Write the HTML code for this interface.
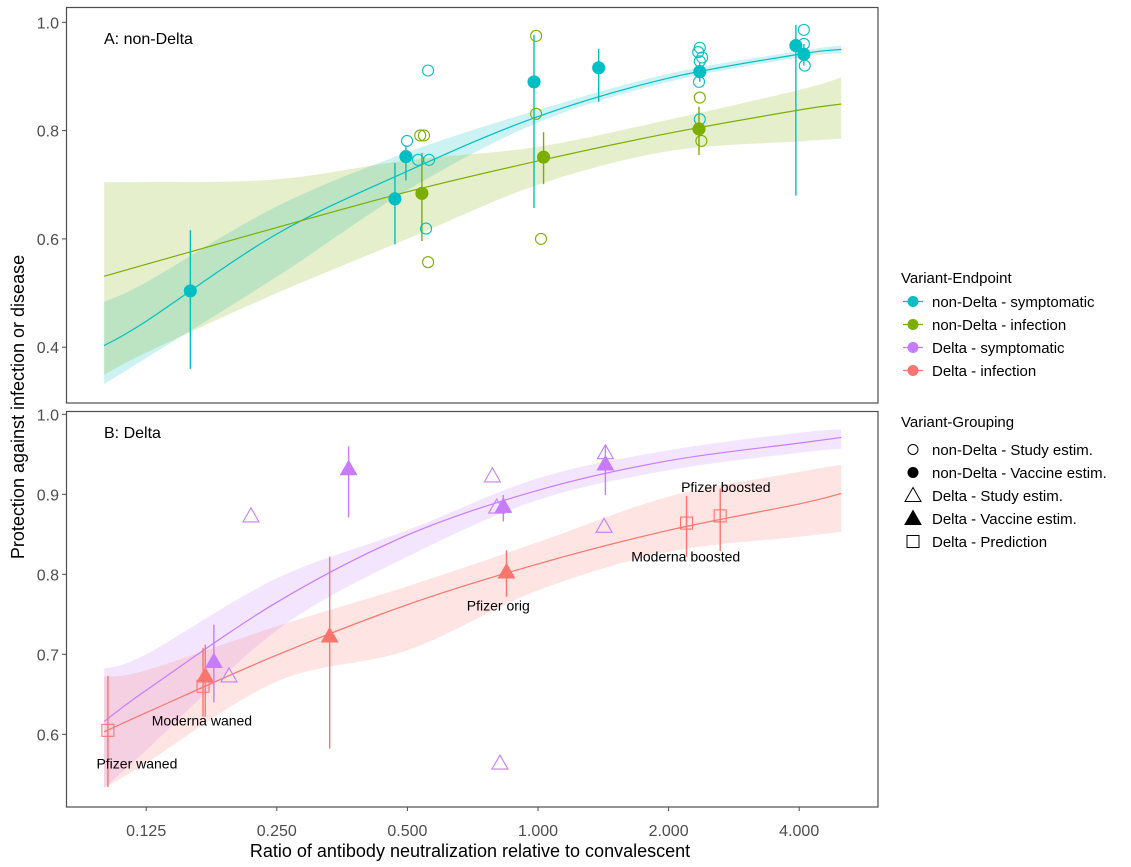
<!DOCTYPE html>
<html><head><meta charset="utf-8"><style>
body{margin:0;background:#fff;}
svg{display:block;font-family:"Liberation Sans",Arial,sans-serif;}
</style></head><body>
<svg id="chart" width="1131" height="867" viewBox="0 0 1131 867" xmlns="http://www.w3.org/2000/svg">
<rect x="0" y="0" width="1131" height="867" fill="#fff"/>
<g id="bands"></g><g id="lines"></g><g id="marks"></g>
<rect x="66.5" y="7.5" width="811.5" height="395.5" fill="none" stroke="#4d4d4d" stroke-width="1.2"/>
<rect x="66.5" y="411.5" width="811.5" height="395.5" fill="none" stroke="#4d4d4d" stroke-width="1.2"/>
<text x="104" y="44" font-size="16" fill="#000">A: non-Delta</text>
<text x="104" y="438" font-size="16" fill="#000">B: Delta</text>
<g id="axes"></g>
<text x="470" y="857" font-size="18" text-anchor="middle" fill="#000">Ratio of antibody neutralization relative to convalescent</text>
<text transform="translate(24,407) rotate(-90)" font-size="18" text-anchor="middle" fill="#000">Protection against infection or disease</text>
<g id="legend" font-size="15" fill="#000"></g>
</svg>
<script>
const NS="http://www.w3.org/2000/svg";
// ---- data ----
const xTicks=[0.125,0.25,0.5,1,2,4];
const xTickLabels=["0.125","0.250","0.500","1.000","2.000","4.000"];
const yTicksA=[0.4,0.6,0.8,1.0];
const yTicksB=[0.6,0.7,0.8,0.9,1.0];
const curveX=[0.1,0.125,0.25,0.5,1,2,4,5];
const cyanFit=[0.403,0.448,0.609,0.725,0.826,0.897,0.941,0.950];
const cyanLo=[0.332,0.38,0.53,0.69,0.815,0.89,0.935,0.943];
const cyanHi=[0.484,0.52,0.66,0.76,0.838,0.905,0.947,0.957];
const greenFit=[0.531,0.553,0.621,0.687,0.744,0.795,0.838,0.849];
const greenLo=[0.349,0.39,0.50,0.60,0.70,0.762,0.78,0.785];
const greenHi=[0.705,0.705,0.71,0.745,0.77,0.82,0.875,0.898];
const purpleFit=[0.616,0.655,0.765,0.849,0.905,0.942,0.964,0.971];
const purpleLo=[0.533,0.58,0.73,0.822,0.893,0.93,0.952,0.957];
const purpleHi=[0.682,0.70,0.795,0.855,0.92,0.955,0.977,0.981];
const redFit=[0.603,0.627,0.699,0.762,0.813,0.855,0.888,0.901];
const redLo=[0.533,0.564,0.666,0.705,0.78,0.828,0.847,0.853];
const redHi=[0.672,0.68,0.735,0.785,0.84,0.897,0.928,0.937];
// panel A vaccine estimates
const cyanVacX=[0.158,0.468,0.496,0.979,1.38,2.36,3.93,4.10];
const cyanVacY=[0.504,0.674,0.752,0.890,0.916,0.909,0.957,0.941];
const cyanVacLo=[0.36,0.59,0.708,0.657,0.853,0.89,0.68,0.92];
const cyanVacHi=[0.616,0.74,0.773,0.977,0.951,0.925,0.995,0.96];
const greenVacX=[0.540,1.03,2.35];
const greenVacY=[0.684,0.751,0.803];
const greenVacLo=[0.596,0.701,0.755];
const greenVacHi=[0.759,0.797,0.844];
const cyanStudyX=[0.558,0.499,0.529,0.561,0.552,2.36,2.34,2.39,2.36,2.35,2.36,4.1,4.1,4.12];
const cyanStudyY=[0.911,0.781,0.746,0.746,0.619,0.953,0.945,0.935,0.928,0.89,0.821,0.986,0.96,0.92];
const greenStudyX=[0.535,0.546,0.558,0.99,0.99,1.016,2.36,2.38];
const greenStudyY=[0.791,0.791,0.557,0.975,0.831,0.600,0.861,0.781];
// panel B
const purpleVacX=[0.179,0.366,0.832,1.43];
const purpleVacY=[0.691,0.932,0.885,0.938];
const purpleVacLo=[0.64,0.871,0.866,0.899];
const purpleVacHi=[0.737,0.96,0.899,0.962];
const redVacX=[0.171,0.331,0.846];
const redVacY=[0.673,0.723,0.803];
const redVacLo=[0.622,0.582,0.772];
const redVacHi=[0.712,0.822,0.83];
const purpleStudyX=[0.194,0.218,0.785,0.803,1.43,1.42,0.817];
const purpleStudyY=[0.673,0.873,0.923,0.884,0.952,0.860,0.564];
const predX=[0.102,0.169,2.20,2.63];
const predY=[0.605,0.660,0.864,0.873];
const predLo=[0.534,0.622,0.822,0.829];
const predHi=[0.673,0.708,0.898,0.907];
const labelText=["Pfizer waned","Moderna waned","Pfizer orig","Pfizer boosted","Moderna boosted"];
const labelX=[0.119,0.168,0.81,2.71,2.19];
const labelY=[0.557,0.611,0.755,0.903,0.816];
// ---- scales ----
const X=v=>538+130.6*Math.log2(v);
const YA=v=>22.3+(1-v)*541.5;
const YB=v=>414.3+(1-v)*800;
const C={cyan:"#00BFC4",green:"#7CAE00",purple:"#C77CFF",red:"#F8766D"};
function el(tag,attrs,parent){const e=document.createElementNS(NS,tag);for(const k in attrs)e.setAttribute(k,attrs[k]);parent.appendChild(e);return e;}
const bands=document.getElementById('bands'),lines=document.getElementById('lines'),marks=document.getElementById('marks'),axes=document.getElementById('axes'),legend=document.getElementById('legend');
function smooth(pts,start){
  let d=start?("M"+pts[0][0]+","+pts[0][1]):("L"+pts[0][0]+","+pts[0][1]);
  for(let i=0;i<pts.length-1;i++){
    const p0=pts[Math.max(0,i-1)],p1=pts[i],p2=pts[i+1],p3=pts[Math.min(pts.length-1,i+2)];
    const c1=[p1[0]+(p2[0]-p0[0])/6,p1[1]+(p2[1]-p0[1])/6];
    const c2=[p2[0]-(p3[0]-p1[0])/6,p2[1]-(p3[1]-p1[1])/6];
    d+=`C${c1[0]},${c1[1]} ${c2[0]},${c2[1]} ${p2[0]},${p2[1]}`;
  }
  return d;
}
function band(lo,hi,Y,col,name){
  const up=curveX.map((x,i)=>[X(x),Y(hi[i])]);
  const dn=curveX.map((x,i)=>[X(x),Y(lo[i])]).reverse();
  const d=smooth(up,true)+smooth(dn,false)+"Z";
  const p=el('path',{d:d,fill:col,'fill-opacity':0.2},bands);
  
  
}
function line(fit,Y,col,name){
  const pts=curveX.map((x,i)=>[X(x),Y(fit[i])]);
  const p=el('path',{d:smooth(pts,true),fill:"none",stroke:col,'stroke-width':1.2},lines);
  
  
}
band(cyanLo,cyanHi,YA,C.cyan,'band-nondelta-symptomatic');
band(greenLo,greenHi,YA,C.green,'band-nondelta-infection');
band(purpleLo,purpleHi,YB,C.purple,'band-delta-symptomatic');
band(redLo,redHi,YB,C.red,'band-delta-infection');
line(cyanFit,YA,C.cyan,'fit-nondelta-symptomatic');
line(greenFit,YA,C.green,'fit-nondelta-infection');
line(purpleFit,YB,C.purple,'fit-delta-symptomatic');
line(redFit,YB,C.red,'fit-delta-infection');
function ebar(x,lo,hi,Y,col){const l=el('line',{x1:X(x),x2:X(x),y1:Y(lo),y2:Y(hi),stroke:col,'stroke-width':1.4},marks);
  
  }
function circ(x,y,Y,col,filled){const c=el('circle',{cx:X(x),cy:Y(y),r:filled?6:5.5,fill:filled?col:"none",stroke:col,'stroke-width':1.1},marks);
  
  }
function tri(x,y,Y,col,filled){const cx=X(x),cy=Y(y);const p=el('polygon',{points:`${cx-8},${cy+6} ${cx+8},${cy+6} ${cx},${cy-8}`,fill:filled?col:"none",stroke:col,'stroke-width':1.1},marks);
  
  }
function sq(x,y,Y,col){const cx=X(x),cy=Y(y);const r=el('rect',{x:cx-6,y:cy-6,width:12,height:12,fill:"none",stroke:col,'stroke-width':1.1},marks);
  
  }
cyanVacX.forEach((x,i)=>ebar(x,cyanVacLo[i],cyanVacHi[i],YA,C.cyan));
greenVacX.forEach((x,i)=>ebar(x,greenVacLo[i],greenVacHi[i],YA,C.green));
cyanStudyX.forEach((x,i)=>circ(x,cyanStudyY[i],YA,C.cyan,false));
greenStudyX.forEach((x,i)=>circ(x,greenStudyY[i],YA,C.green,false));
cyanVacX.forEach((x,i)=>circ(x,cyanVacY[i],YA,C.cyan,true));
greenVacX.forEach((x,i)=>circ(x,greenVacY[i],YA,C.green,true));
purpleVacX.forEach((x,i)=>ebar(x,purpleVacLo[i],purpleVacHi[i],YB,C.purple));
redVacX.forEach((x,i)=>ebar(x,redVacLo[i],redVacHi[i],YB,C.red));
predX.forEach((x,i)=>ebar(x,predLo[i],predHi[i],YB,C.red));
purpleStudyX.forEach((x,i)=>tri(x,purpleStudyY[i],YB,C.purple,false));
purpleVacX.forEach((x,i)=>tri(x,purpleVacY[i],YB,C.purple,true));
redVacX.forEach((x,i)=>tri(x,redVacY[i],YB,C.red,true));
predX.forEach((x,i)=>sq(x,predY[i],YB,C.red));
labelText.forEach((t,i)=>{const e=el('text',{x:X(labelX[i]),y:YB(labelY[i]),'font-size':14,'text-anchor':'middle',fill:'#000'},marks);e.textContent=t;
  
  });
// axes
xTicks.forEach((v,i)=>{el('line',{x1:X(v),x2:X(v),y1:807,y2:811,stroke:'#4d4d4d'},axes);
  const t=el('text',{x:X(v),y:836,'font-size':16,'text-anchor':'middle',fill:'#4d4d4d'},axes);t.textContent=xTickLabels[i];
  
  });
function yAx(ticks,Y){ticks.forEach(v=>{el('line',{x1:62,x2:66.5,y1:Y(v),y2:Y(v),stroke:'#4d4d4d'},axes);
  const t=el('text',{x:59,y:Y(v)+6,'font-size':16,'text-anchor':'end',fill:'#4d4d4d'},axes);t.textContent=v.toFixed(1);
  
  });}
yAx(yTicksA,YA);yAx(yTicksB,YB);
// legend
const leg1=["non-Delta - symptomatic","non-Delta - infection","Delta - symptomatic","Delta - infection"];
const leg1c=[C.cyan,C.green,C.purple,C.red];
let h=el('text',{x:901,y:283},legend);h.textContent="Variant-Endpoint";


leg1.forEach((t,i)=>{const y=301.5+i*23;
  el('line',{x1:903,x2:923,y1:y,y2:y,stroke:leg1c[i],'stroke-width':1.2},legend);
  el('circle',{cx:913,cy:y,r:5.5,fill:leg1c[i]},legend);
  const e=el('text',{x:932,y:y+5.5},legend);e.textContent=t;
  
  });
h=el('text',{x:901,y:427},legend);h.textContent="Variant-Grouping";


const leg2=["non-Delta - Study estim.","non-Delta - Vaccine estim.","Delta - Study estim.","Delta - Vaccine estim.","Delta - Prediction"];
leg2.forEach((t,i)=>{const y=449.5+i*23;
  if(i==0)el('circle',{cx:913,cy:y,r:5,fill:'none',stroke:'#000'},legend);
  if(i==1)el('circle',{cx:913,cy:y,r:5.5,fill:'#000'},legend);
  if(i==2||i==3)el('polygon',{points:`${905},${y+6} ${921},${y+6} ${913},${y-8}`,fill:i==3?'#000':'none',stroke:'#000'},legend);
  if(i==4)el('rect',{x:907,y:y-6,width:12,height:12,fill:'none',stroke:'#000'},legend);
  const e=el('text',{x:932,y:y+5.5},legend);e.textContent=t;
  
  });
</script>
</body></html>
